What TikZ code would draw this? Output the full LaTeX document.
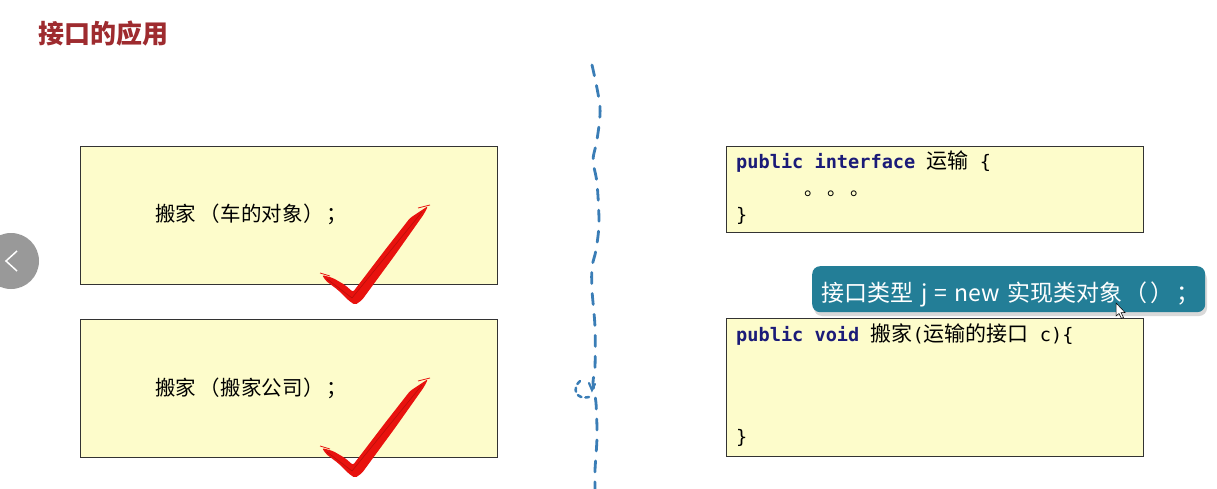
\documentclass[tikz,border=0pt]{standalone}
\usepackage{fontspec}
\setmainfont{Noto Sans CJK SC}
\newfontfamily\cjk{Noto Sans CJK SC}
\setmonofont{DejaVu Sans Mono}
\definecolor{titlered}{HTML}{9E2B2F}
\definecolor{boxyellow}{HTML}{FDFCCB}
\definecolor{kw}{HTML}{1B1B78}
\definecolor{dashblue}{HTML}{3A7DB6}
\definecolor{tipteal}{HTML}{237E97}
\definecolor{checkred}{HTML}{E8120E}
\tikzset{
  box/.style={draw=black!80, line width=1.3pt, fill=boxyellow, inner sep=0pt, anchor=north west},
  txt/.style={inner sep=0pt, anchor=base west, font=\cjk\fontsize{20.5}{21}\selectfont},
  code/.style={inner sep=0pt, anchor=base west, font=\ttfamily\fontsize{18.6}{20}\selectfont},
  dashline/.style={draw=dashblue, line width=2.8pt, line cap=round, dash pattern=on 11pt off 10pt},
  checkmark/.style={fill=checkred, rounded corners=2pt},
}
\newcommand{\cj}[1]{{\cjk\fontsize{21}{21}\selectfont #1}}
\begin{document}
\begin{tikzpicture}[x=1pt,y=-1pt]
\useasboundingbox (0,0) rectangle (1217,489);
\fill[white] (0,0) rectangle (1217,489);
% title
\node[inner sep=0pt, anchor=base west, text=titlered, font=\cjk\bfseries\fontsize{26}{26}\selectfont] (title) at (38,44) {接口的应用};
% left boxes
\node[box, minimum width=417pt, minimum height=138pt] (b1) at (80,146) {};
\node[box, minimum width=417pt, minimum height=138pt] (b2) at (80,319) {};
\node[txt] (t1) at (155,222) {搬家\hspace{3pt}（\hspace{1pt}车的对象\hspace{1pt}）\hspace{2pt}；};
\node[txt] (t2) at (155,395) {搬家\hspace{3pt}（\hspace{1pt}搬家公司\hspace{1pt}）\hspace{2pt}；};
% check marks
\foreach \dy/\nm in {0/c1,173/c2}{
\begin{scope}[yshift=-\dy pt]
\fill[checkmark] (322,275) -- (333,278) -- (345,285) -- (353,292) -- (385,250) -- (410,218) -- (428,206)
  -- (424,214) -- (395,255) -- (362,300) -- (355,305) -- (348,300) -- (338,290) -- (326,281) -- cycle;
\draw[checkred!80!black, line width=0.6pt] (327,279) -- (352,298) -- (422,212);
\draw[checkred, line width=0.8pt] (320,273) -- (330,276);
\draw[checkred, line width=0.8pt] (418,208) -- (430,205);
\end{scope}
}
% dashed divider
\draw[dashline] plot[smooth] coordinates {(592,65) (600,107) (597,140) (593,160) (597,183) (599,223) (596,250) (592,267) (592,290) (595,327) (595,367) (593,383) (596,403) (597,437) (595,470) (595,489)};
\draw[draw=dashblue, line width=2.5pt, line cap=round, dash pattern=on 4pt off 4pt] (580,381) .. controls (572,388) and (575,400) .. (589,397);
\draw[draw=dashblue, line width=2.2pt, line cap=round] (589,383) -- (592,390) -- (595,384);
% right boxes
\node[box, minimum width=417pt, minimum height=86pt] (r1) at (726,146) {};
\node[box, minimum width=417pt, minimum height=138pt] (r2) at (726,318) {};
\node[code] (r1a) at (736,169) {\textbf{\color{kw}public interface} \cj{运输} \{};
\node[inner sep=0pt, anchor=base west, font=\cjk\fontsize{19}{19}\selectfont] (r1b) at (804,196) {。 。 。};
\node[code] (r1c) at (736,221) {\}};
\node[code] (r2a) at (736,341) {\textbf{\color{kw}public void} \cj{搬家}(\cj{运输的接口} c)\{};
\node[code] (r2c) at (736,443) {\}};
% tooltip
\fill[black!15, rounded corners=8pt] (814,271) rectangle (1207,316);
\node[fill=tipteal, rounded corners=8pt, minimum width=393pt, minimum height=46pt, inner sep=0pt, anchor=north west] (tip) at (812,266) {};
\node[inner sep=0pt, anchor=base west, text=white, font=\cjk\fontsize{23}{23}\selectfont] (tiptext) at (821,301.5) {接口类型\hspace{8pt}j\hspace{7pt}=\hspace{7pt}new\hspace{8pt}实现类对象\hspace{2pt}（\hspace{3pt}）\hspace{3pt}；};
% cursor
\filldraw[fill=white, draw=black, line width=0.5pt] (1116,303) -- (1116,316) -- (1119,313.5) -- (1121.5,318.5) -- (1123.5,317.5) -- (1121,312.5) -- (1125,312.5) -- cycle;
% nav button
\fill[black!40] (11,261) circle (28);
\draw[white, line width=1.5pt] (17,251) -- (6,261) -- (17,271);
\end{tikzpicture}
\end{document}
